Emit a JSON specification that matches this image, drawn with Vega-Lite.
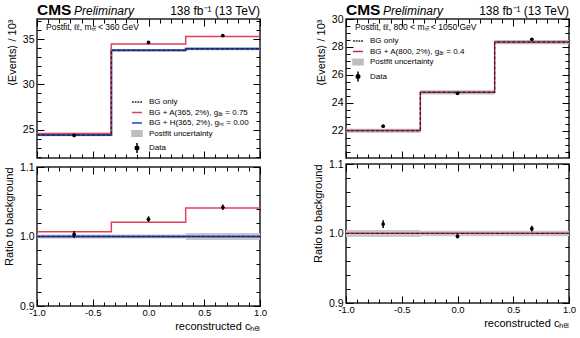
{
  "$schema": "https://vega.github.io/schema/vega-lite/v6.json",
  "padding": {"left": 2, "right": 2, "top": 2, "bottom": 2},
  "background": "white",
  "config": {
    "font": "Liberation Sans",
    "view": {"stroke": "#222", "strokeWidth": 1.5},
    "axis": {"domain": false, "grid": false, "labelFont": "Liberation Sans", "labelColor": "#000", "tickColor": "#000", "tickWidth": 1, "titleFont": "Liberation Sans", "titleFontWeight": "normal", "titleColor": "#000", "labelFlush": false, "labelOverlap": false}
  },
  "datasets": {
    "stepsL": [
      {"x": -1, "bg": 24.4, "a": 24.57},
      {"x": -0.3333, "bg": 33.78, "a": 34.48},
      {"x": 0.3333, "bg": 33.95, "a": 35.3},
      {"x": 1, "bg": 33.95, "a": 35.3}
    ],
    "bandL": [
      {"x0": -1, "x1": -0.3333, "lo": 24.25, "hi": 24.55},
      {"x0": -0.3333, "x1": 0.3333, "lo": 33.65, "hi": 33.91},
      {"x0": 0.3333, "x1": 1, "lo": 33.8, "hi": 34.1}
    ],
    "dataL": [
      {"x": -0.6667, "y": 24.35, "lo": 24.25, "hi": 24.45},
      {"x": 0, "y": 34.66, "lo": 34.56, "hi": 34.76},
      {"x": 0.6667, "y": 35.42, "lo": 35.32, "hi": 35.52}
    ],
    "rstepsL": [
      {"x": -1, "bg": 1, "a": 1.007},
      {"x": -0.3333, "bg": 1, "a": 1.0205},
      {"x": 0.3333, "bg": 1, "a": 1.041},
      {"x": 1, "bg": 1, "a": 1.041}
    ],
    "rbandL": [
      {"x0": -1, "x1": -0.3333, "lo": 0.997, "hi": 1.003},
      {"x0": -0.3333, "x1": 0.3333, "lo": 0.997, "hi": 1.003},
      {"x0": 0.3333, "x1": 1, "lo": 0.995, "hi": 1.005}
    ],
    "rdataL": [
      {"x": -0.6667, "y": 1.003, "lo": 0.998, "hi": 1.008},
      {"x": 0, "y": 1.025, "lo": 1.021, "hi": 1.029},
      {"x": 0.6667, "y": 1.042, "lo": 1.038, "hi": 1.046}
    ],
    "stepsR": [
      {"x": -1, "bg": 22.0, "a": 22.01},
      {"x": -0.3333, "bg": 24.75, "a": 24.76},
      {"x": 0.3333, "bg": 28.35, "a": 28.36},
      {"x": 1, "bg": 28.35, "a": 28.36}
    ],
    "bandR": [
      {"x0": -1, "x1": -0.3333, "lo": 21.85, "hi": 22.15},
      {"x0": -0.3333, "x1": 0.3333, "lo": 24.6, "hi": 24.9},
      {"x0": 0.3333, "x1": 1, "lo": 28.2, "hi": 28.5}
    ],
    "dataR": [
      {"x": -0.6667, "y": 22.33, "lo": 22.25, "hi": 22.41},
      {"x": 0, "y": 24.68, "lo": 24.6, "hi": 24.76},
      {"x": 0.6667, "y": 28.55, "lo": 28.47, "hi": 28.63}
    ],
    "rstepsR": [
      {"x": -1, "bg": 1, "a": 1.0005},
      {"x": -0.3333, "bg": 1, "a": 1.0005},
      {"x": 0.3333, "bg": 1, "a": 1.0005},
      {"x": 1, "bg": 1, "a": 1.0005}
    ],
    "rbandR": [
      {"x0": -1, "x1": -0.3333, "lo": 0.995, "hi": 1.005},
      {"x0": -0.3333, "x1": 0.3333, "lo": 0.996, "hi": 1.004},
      {"x0": 0.3333, "x1": 1, "lo": 0.996, "hi": 1.004}
    ],
    "rdataR": [
      {"x": -0.6667, "y": 1.0135, "lo": 1.008, "hi": 1.019},
      {"x": 0, "y": 0.996, "lo": 0.993, "hi": 0.999},
      {"x": 0.6667, "y": 1.007, "lo": 1.003, "hi": 1.011}
    ],
    "legL": [{"s": "BG only"}],
    "legR": [{"s": "BG only"}]
  },
  "resolve": {"scale": {"x": "independent", "y": "independent", "shape": "independent", "fill": "independent", "stroke": "independent"}},
  "spacing": 43,
  "hconcat": [
    {
      "spacing": -2,
      "resolve": {"scale": {"x": "independent", "y": "independent", "shape": "independent", "fill": "independent", "stroke": "independent"}},
      "vconcat": [
        {
          "width": 223, "height": 139,
          "resolve": {"axis": {"x": "independent", "y": "independent"}},
          "layer": [
            {
              "data": {"name": "bandL"},
              "mark": {"type": "rect", "color": "#bdbdbd"},
              "encoding": {
                "x": {"field": "x0", "type": "quantitative", "scale": {"domain": [-1, 1], "nice": false, "zero": false},
                  "axis": {"orient": "bottom", "values": [-1,-0.9,-0.8,-0.7,-0.6,-0.5,-0.4,-0.3,-0.2,-0.1,0,0.1,0.2,0.3,0.4,0.5,0.6,0.7,0.8,0.9,1], "labels": false, "title": null,
                    "tickSize": {"condition": {"test": "abs(datum.value*2-round(datum.value*2))<0.001", "value": -7}, "value": -4}}},
                "x2": {"field": "x1"},
                "y": {"field": "lo", "type": "quantitative", "scale": {"domain": [21.85, 37.25], "nice": false, "zero": false},
                  "axis": {"orient": "left", "values": [22,23,24,25,26,27,28,29,30,31,32,33,34,35,36,37], "labelExpr": "datum.value % 5 == 0 ? datum.label : ''", "labelFontSize": 10.5, "labelPadding": 10,
                    "tickSize": {"condition": {"test": "datum.value % 5 == 0", "value": -7}, "value": -4},
                    "title": "⟨Events⟩ / 10³", "titleFontSize": 11, "titleAnchor": "end", "titlePadding": 5}},
                "y2": {"field": "hi"}
              }
            },
            {
              "data": {"name": "stepsL"},
              "mark": {"type": "line", "interpolate": "step-after", "color": "#2343c2", "strokeWidth": 2},
              "encoding": {
                "x": {"field": "x", "type": "quantitative",
                  "axis": {"orient": "top", "values": [-1,-0.9,-0.8,-0.7,-0.6,-0.5,-0.4,-0.3,-0.2,-0.1,0,0.1,0.2,0.3,0.4,0.5,0.6,0.7,0.8,0.9,1], "labels": false, "title": null,
                    "tickSize": {"condition": {"test": "abs(datum.value*2-round(datum.value*2))<0.001", "value": -7}, "value": -4}}},
                "y": {"field": "bg", "type": "quantitative",
                  "axis": {"orient": "right", "values": [22,23,24,25,26,27,28,29,30,31,32,33,34,35,36,37], "labels": false, "title": null,
                    "tickSize": {"condition": {"test": "datum.value % 5 == 0", "value": -7}, "value": -4}}}
              }
            },
            {
              "data": {"name": "stepsL"},
              "mark": {"type": "line", "interpolate": "step-after", "color": "#e2405f", "strokeWidth": 1.5},
              "encoding": {"x": {"field": "x", "type": "quantitative", "axis": null}, "y": {"field": "a", "type": "quantitative", "axis": null}}
            },
            {
              "data": {"name": "stepsL"},
              "mark": {"type": "line", "interpolate": "step-after", "color": "#222", "strokeWidth": 1.2, "strokeDash": [3, 2]},
              "encoding": {"x": {"field": "x", "type": "quantitative", "axis": null}, "y": {"field": "bg", "type": "quantitative", "axis": null}}
            },
            {
              "data": {"name": "dataL"},
              "mark": {"type": "rule", "color": "#000", "strokeWidth": 1.5},
              "encoding": {"x": {"field": "x", "type": "quantitative", "axis": null}, "y": {"field": "lo", "type": "quantitative", "axis": null}, "y2": {"field": "hi"}}
            },
            {
              "data": {"name": "dataL"},
              "mark": {"type": "point", "filled": true, "color": "#000", "opacity": 1, "size": 14},
              "encoding": {"x": {"field": "x", "type": "quantitative", "axis": null}, "y": {"field": "y", "type": "quantitative", "axis": null}}
            },
            {
              "data": {"name": "legL"},
              "mark": {"type": "text", "text": "CMS", "fontWeight": "bold", "fontSize": 15.5, "align": "left", "baseline": "alphabetic", "dy": -4},
              "encoding": {"x": {"datum": -1, "type": "quantitative", "axis": null}, "y": {"datum": 37.25, "type": "quantitative", "axis": null}}
            },
            {
              "data": {"name": "legL"},
              "mark": {"type": "text", "text": "Preliminary", "fontStyle": "italic", "fontSize": 12, "align": "left", "baseline": "alphabetic", "dx": 37, "dy": -4},
              "encoding": {"x": {"datum": -1, "type": "quantitative", "axis": null}, "y": {"datum": 37.25, "type": "quantitative", "axis": null}}
            },
            {
              "data": {"name": "legL"},
              "mark": {"type": "text", "text": "138 fb⁻¹ (13 TeV)", "fontSize": 12, "align": "right", "baseline": "alphabetic", "dy": -4},
              "encoding": {"x": {"datum": 1, "type": "quantitative", "axis": null}, "y": {"datum": 37.25, "type": "quantitative", "axis": null}}
            },
            {
              "data": {"name": "legL"},
              "mark": {"type": "text", "text": "Postfit, ℓℓ, mₜₜ̄ < 360 GeV", "fontSize": 8.5, "align": "left", "baseline": "top", "dx": 9, "dy": 4},
              "encoding": {"x": {"datum": -1, "type": "quantitative", "axis": null}, "y": {"datum": 37.25, "type": "quantitative", "axis": null}}
            },
            {
              "data": {"name": "legL"},
              "transform": [{"filter": "false"}],
              "mark": {"type": "point", "filled": true, "opacity": 1, "strokeWidth": 1.5},
              "encoding": {
                "shape": {"field": "s", "type": "nominal",
                  "scale": {"domain": ["BG only", "BG + A(365, 2%), gₐₜ = 0.75", "BG + H(365, 2%), gₕₜ = 0.00", "Postfit uncertainty", "Data"],
                    "range": ["M-1,0H-0.65M-0.45,0H-0.1M0.1,0H0.45M0.65,0H1", "M-1,0H1", "M-1,0H1", "M-1,-0.55H1V0.55H-1Z", "M0,-1V1M-0.35,0A0.35,0.35 0 1,0 0.35,0A0.35,0.35 0 1,0 -0.35,0"]},
                  "legend": {"title": null, "orient": "none", "direction": "vertical", "legendX": 94, "legendY": 77, "labelFontSize": 8, "labelFont": "Liberation Sans", "symbolSize": 100, "symbolStrokeWidth": 1.5, "rowPadding": 0.5, "labelOffset": 6, "labelLimit": 300, "padding": 0}},
                "fill": {"field": "s", "type": "nominal",
                  "scale": {"domain": ["BG only", "BG + A(365, 2%), gₐₜ = 0.75", "BG + H(365, 2%), gₕₜ = 0.00", "Postfit uncertainty", "Data"],
                    "range": ["transparent", "transparent", "transparent", "#bdbdbd", "#000000"]},
                  "legend": {"title": null, "orient": "none", "direction": "vertical", "legendX": 94, "legendY": 77, "labelFontSize": 8, "labelFont": "Liberation Sans", "symbolSize": 100, "symbolStrokeWidth": 1.5, "rowPadding": 0.5, "labelOffset": 6, "labelLimit": 300, "padding": 0}},
                "stroke": {"field": "s", "type": "nominal",
                  "scale": {"domain": ["BG only", "BG + A(365, 2%), gₐₜ = 0.75", "BG + H(365, 2%), gₕₜ = 0.00", "Postfit uncertainty", "Data"],
                    "range": ["#222222", "#e2405f", "#2343c2", "#bdbdbd", "#000000"]},
                  "legend": {"title": null, "orient": "none", "direction": "vertical", "legendX": 94, "legendY": 77, "labelFontSize": 8, "labelFont": "Liberation Sans", "symbolSize": 100, "symbolStrokeWidth": 1.5, "rowPadding": 0.5, "labelOffset": 6, "labelLimit": 300, "padding": 0}}
              }
            }
          ]
        },
        {
          "width": 223, "height": 139,
          "resolve": {"axis": {"x": "independent", "y": "independent"}},
          "layer": [
            {
              "data": {"name": "rbandL"},
              "mark": {"type": "rect", "color": "#c8c8c8"},
              "encoding": {
                "x": {"field": "x0", "type": "quantitative", "scale": {"domain": [-1, 1], "nice": false, "zero": false},
                  "axis": {"orient": "bottom", "values": [-1,-0.9,-0.8,-0.7,-0.6,-0.5,-0.4,-0.3,-0.2,-0.1,0,0.1,0.2,0.3,0.4,0.5,0.6,0.7,0.8,0.9,1],
                    "labelExpr": "abs(datum.value*2-round(datum.value*2))<0.001 ? replace(format(datum.value, '.1f'), '−', '-') : ''", "labelFontSize": 9.5, "labelPadding": 8,
                    "tickSize": {"condition": {"test": "abs(datum.value*2-round(datum.value*2))<0.001", "value": -7}, "value": -4},
                    "title": "reconstructed cₕₑₗ", "titleFontSize": 11, "titleAnchor": "end", "titlePadding": 1}},
                "x2": {"field": "x1"},
                "y": {"field": "lo", "type": "quantitative", "scale": {"domain": [0.9, 1.1], "nice": false, "zero": false},
                  "axis": {"orient": "left", "values": [0.9,0.92,0.94,0.96,0.98,1,1.02,1.04,1.06,1.08,1.1], "labelExpr": "abs(datum.value*10-round(datum.value*10))<0.001 ? format(datum.value, '.1f') : ''", "labelFontSize": 10.5, "labelPadding": 10,
                    "tickSize": {"condition": {"test": "abs(datum.value*10-round(datum.value*10))<0.001", "value": -7}, "value": -4},
                    "title": "Ratio to background", "titleFontSize": 11, "titleAnchor": "end", "titlePadding": 5}},
                "y2": {"field": "hi"}
              }
            },
            {
              "data": {"name": "rstepsL"},
              "mark": {"type": "line", "interpolate": "step-after", "color": "#2343c2", "strokeWidth": 2},
              "encoding": {
                "x": {"field": "x", "type": "quantitative",
                  "axis": {"orient": "top", "values": [-1,-0.9,-0.8,-0.7,-0.6,-0.5,-0.4,-0.3,-0.2,-0.1,0,0.1,0.2,0.3,0.4,0.5,0.6,0.7,0.8,0.9,1], "labels": false, "title": null,
                    "tickSize": {"condition": {"test": "abs(datum.value*2-round(datum.value*2))<0.001", "value": -7}, "value": -4}}},
                "y": {"field": "bg", "type": "quantitative",
                  "axis": {"orient": "right", "values": [0.9,0.92,0.94,0.96,0.98,1,1.02,1.04,1.06,1.08,1.1], "labels": false, "title": null,
                    "tickSize": {"condition": {"test": "abs(datum.value*10-round(datum.value*10))<0.001", "value": -7}, "value": -4}}}
              }
            },
            {
              "data": {"name": "rstepsL"},
              "mark": {"type": "line", "interpolate": "step-after", "color": "#e2405f", "strokeWidth": 1.5},
              "encoding": {"x": {"field": "x", "type": "quantitative", "axis": null}, "y": {"field": "a", "type": "quantitative", "axis": null}}
            },
            {
              "data": {"name": "rstepsL"},
              "mark": {"type": "line", "interpolate": "step-after", "color": "#222", "strokeWidth": 1.2, "strokeDash": [3, 2]},
              "encoding": {"x": {"field": "x", "type": "quantitative", "axis": null}, "y": {"field": "bg", "type": "quantitative", "axis": null}}
            },
            {
              "data": {"name": "rdataL"},
              "mark": {"type": "rule", "color": "#000", "strokeWidth": 1.5},
              "encoding": {"x": {"field": "x", "type": "quantitative", "axis": null}, "y": {"field": "lo", "type": "quantitative", "axis": null}, "y2": {"field": "hi"}}
            },
            {
              "data": {"name": "rdataL"},
              "mark": {"type": "point", "filled": true, "color": "#000", "opacity": 1, "size": 14},
              "encoding": {"x": {"field": "x", "type": "quantitative", "axis": null}, "y": {"field": "y", "type": "quantitative", "axis": null}}
            }
          ]
        }
      ]
    },
    {
      "spacing": -2,
      "resolve": {"scale": {"x": "independent", "y": "independent", "shape": "independent", "fill": "independent", "stroke": "independent"}},
      "vconcat": [
        {
          "width": 223, "height": 139,
          "resolve": {"axis": {"x": "independent", "y": "independent"}},
          "layer": [
            {
              "data": {"name": "bandR"},
              "mark": {"type": "rect", "color": "#bdbdbd"},
              "encoding": {
                "x": {"field": "x0", "type": "quantitative", "scale": {"domain": [-1, 1], "nice": false, "zero": false},
                  "axis": {"orient": "bottom", "values": [-1,-0.9,-0.8,-0.7,-0.6,-0.5,-0.4,-0.3,-0.2,-0.1,0,0.1,0.2,0.3,0.4,0.5,0.6,0.7,0.8,0.9,1], "labels": false, "title": null,
                    "tickSize": {"condition": {"test": "abs(datum.value*2-round(datum.value*2))<0.001", "value": -7}, "value": -4}}},
                "x2": {"field": "x1"},
                "y": {"field": "lo", "type": "quantitative", "scale": {"domain": [20.05, 30], "nice": false, "zero": false},
                  "axis": {"orient": "left", "values": [20.5,21,21.5,22,22.5,23,23.5,24,24.5,25,25.5,26,26.5,27,27.5,28,28.5,29,29.5,30], "labelExpr": "datum.value % 2 == 0 ? format(datum.value, 'd') : ''", "labelFontSize": 10.5, "labelPadding": 10,
                    "tickSize": {"condition": {"test": "datum.value % 2 == 0", "value": -7}, "value": -4},
                    "title": "⟨Events⟩ / 10³", "titleFontSize": 11, "titleAnchor": "end", "titlePadding": 5}},
                "y2": {"field": "hi"}
              }
            },
            {
              "data": {"name": "stepsR"},
              "mark": {"type": "line", "interpolate": "step-after", "color": "#c02848", "strokeWidth": 1.5},
              "encoding": {
                "x": {"field": "x", "type": "quantitative",
                  "axis": {"orient": "top", "values": [-1,-0.9,-0.8,-0.7,-0.6,-0.5,-0.4,-0.3,-0.2,-0.1,0,0.1,0.2,0.3,0.4,0.5,0.6,0.7,0.8,0.9,1], "labels": false, "title": null,
                    "tickSize": {"condition": {"test": "abs(datum.value*2-round(datum.value*2))<0.001", "value": -7}, "value": -4}}},
                "y": {"field": "a", "type": "quantitative",
                  "axis": {"orient": "right", "values": [20.5,21,21.5,22,22.5,23,23.5,24,24.5,25,25.5,26,26.5,27,27.5,28,28.5,29,29.5,30], "labels": false, "title": null,
                    "tickSize": {"condition": {"test": "datum.value % 2 == 0", "value": -7}, "value": -4}}}
              }
            },
            {
              "data": {"name": "stepsR"},
              "mark": {"type": "line", "interpolate": "step-after", "color": "#222", "strokeWidth": 1.2, "strokeDash": [3, 2]},
              "encoding": {"x": {"field": "x", "type": "quantitative", "axis": null}, "y": {"field": "bg", "type": "quantitative", "axis": null}}
            },
            {
              "data": {"name": "dataR"},
              "mark": {"type": "rule", "color": "#000", "strokeWidth": 1.5},
              "encoding": {"x": {"field": "x", "type": "quantitative", "axis": null}, "y": {"field": "lo", "type": "quantitative", "axis": null}, "y2": {"field": "hi"}}
            },
            {
              "data": {"name": "dataR"},
              "mark": {"type": "point", "filled": true, "color": "#000", "opacity": 1, "size": 14},
              "encoding": {"x": {"field": "x", "type": "quantitative", "axis": null}, "y": {"field": "y", "type": "quantitative", "axis": null}}
            },
            {
              "data": {"name": "legR"},
              "mark": {"type": "text", "text": "CMS", "fontWeight": "bold", "fontSize": 15.5, "align": "left", "baseline": "alphabetic", "dy": -4},
              "encoding": {"x": {"datum": -1, "type": "quantitative", "axis": null}, "y": {"datum": 30, "type": "quantitative", "axis": null}}
            },
            {
              "data": {"name": "legR"},
              "mark": {"type": "text", "text": "Preliminary", "fontStyle": "italic", "fontSize": 12, "align": "left", "baseline": "alphabetic", "dx": 37, "dy": -4},
              "encoding": {"x": {"datum": -1, "type": "quantitative", "axis": null}, "y": {"datum": 30, "type": "quantitative", "axis": null}}
            },
            {
              "data": {"name": "legR"},
              "mark": {"type": "text", "text": "138 fb⁻¹ (13 TeV)", "fontSize": 12, "align": "right", "baseline": "alphabetic", "dy": -4},
              "encoding": {"x": {"datum": 1, "type": "quantitative", "axis": null}, "y": {"datum": 30, "type": "quantitative", "axis": null}}
            },
            {
              "data": {"name": "legR"},
              "mark": {"type": "text", "text": "Postfit, ℓℓ, 800 < mₜₜ̄ < 1050 GeV", "fontSize": 8.5, "align": "left", "baseline": "top", "dx": 9, "dy": 4},
              "encoding": {"x": {"datum": -1, "type": "quantitative", "axis": null}, "y": {"datum": 30, "type": "quantitative", "axis": null}}
            },
            {
              "data": {"name": "legR"},
              "transform": [{"filter": "false"}],
              "mark": {"type": "point", "filled": true, "opacity": 1, "strokeWidth": 1.5},
              "encoding": {
                "shape": {"field": "s", "type": "nominal",
                  "scale": {"domain": ["BG only", "BG + A(800, 2%), gₐₜ = 0.4", "Postfit uncertainty", "Data"],
                    "range": ["M-1,0H-0.65M-0.45,0H-0.1M0.1,0H0.45M0.65,0H1", "M-1,0H1", "M-1,-0.55H1V0.55H-1Z", "M0,-1V1M-0.35,0A0.35,0.35 0 1,0 0.35,0A0.35,0.35 0 1,0 -0.35,0"]},
                  "legend": {"title": null, "orient": "none", "direction": "vertical", "legendX": 6, "legendY": 16, "labelFontSize": 8, "labelFont": "Liberation Sans", "symbolSize": 100, "symbolStrokeWidth": 1.5, "rowPadding": 0.5, "labelOffset": 6, "labelLimit": 300, "padding": 0}},
                "fill": {"field": "s", "type": "nominal",
                  "scale": {"domain": ["BG only", "BG + A(800, 2%), gₐₜ = 0.4", "Postfit uncertainty", "Data"],
                    "range": ["transparent", "transparent", "#bdbdbd", "#000000"]},
                  "legend": {"title": null, "orient": "none", "direction": "vertical", "legendX": 6, "legendY": 16, "labelFontSize": 8, "labelFont": "Liberation Sans", "symbolSize": 100, "symbolStrokeWidth": 1.5, "rowPadding": 0.5, "labelOffset": 6, "labelLimit": 300, "padding": 0}},
                "stroke": {"field": "s", "type": "nominal",
                  "scale": {"domain": ["BG only", "BG + A(800, 2%), gₐₜ = 0.4", "Postfit uncertainty", "Data"],
                    "range": ["#222222", "#c02848", "#bdbdbd", "#000000"]},
                  "legend": {"title": null, "orient": "none", "direction": "vertical", "legendX": 6, "legendY": 16, "labelFontSize": 8, "labelFont": "Liberation Sans", "symbolSize": 100, "symbolStrokeWidth": 1.5, "rowPadding": 0.5, "labelOffset": 6, "labelLimit": 300, "padding": 0}}
              }
            }
          ]
        },
        {
          "width": 223, "height": 139,
          "resolve": {"axis": {"x": "independent", "y": "independent"}},
          "layer": [
            {
              "data": {"name": "rbandR"},
              "mark": {"type": "rect", "color": "#c8c8c8"},
              "encoding": {
                "x": {"field": "x0", "type": "quantitative", "scale": {"domain": [-1, 1], "nice": false, "zero": false},
                  "axis": {"orient": "bottom", "values": [-1,-0.9,-0.8,-0.7,-0.6,-0.5,-0.4,-0.3,-0.2,-0.1,0,0.1,0.2,0.3,0.4,0.5,0.6,0.7,0.8,0.9,1],
                    "labelExpr": "abs(datum.value*2-round(datum.value*2))<0.001 ? replace(format(datum.value, '.1f'), '−', '-') : ''", "labelFontSize": 9.5, "labelPadding": 8,
                    "tickSize": {"condition": {"test": "abs(datum.value*2-round(datum.value*2))<0.001", "value": -7}, "value": -4},
                    "title": "reconstructed cₕₑₗ", "titleFontSize": 11, "titleAnchor": "end", "titlePadding": 1}},
                "x2": {"field": "x1"},
                "y": {"field": "lo", "type": "quantitative", "scale": {"domain": [0.9, 1.1], "nice": false, "zero": false},
                  "axis": {"orient": "left", "values": [0.9,0.92,0.94,0.96,0.98,1,1.02,1.04,1.06,1.08,1.1], "labelExpr": "abs(datum.value*10-round(datum.value*10))<0.001 ? format(datum.value, '.1f') : ''", "labelFontSize": 10.5, "labelPadding": 10,
                    "tickSize": {"condition": {"test": "abs(datum.value*10-round(datum.value*10))<0.001", "value": -7}, "value": -4},
                    "title": "Ratio to background", "titleFontSize": 11, "titleAnchor": "end", "titlePadding": 5}},
                "y2": {"field": "hi"}
              }
            },
            {
              "data": {"name": "rstepsR"},
              "mark": {"type": "line", "interpolate": "step-after", "color": "#c02848", "strokeWidth": 1.5},
              "encoding": {
                "x": {"field": "x", "type": "quantitative",
                  "axis": {"orient": "top", "values": [-1,-0.9,-0.8,-0.7,-0.6,-0.5,-0.4,-0.3,-0.2,-0.1,0,0.1,0.2,0.3,0.4,0.5,0.6,0.7,0.8,0.9,1], "labels": false, "title": null,
                    "tickSize": {"condition": {"test": "abs(datum.value*2-round(datum.value*2))<0.001", "value": -7}, "value": -4}}},
                "y": {"field": "a", "type": "quantitative",
                  "axis": {"orient": "right", "values": [0.9,0.92,0.94,0.96,0.98,1,1.02,1.04,1.06,1.08,1.1], "labels": false, "title": null,
                    "tickSize": {"condition": {"test": "abs(datum.value*10-round(datum.value*10))<0.001", "value": -7}, "value": -4}}}
              }
            },
            {
              "data": {"name": "rstepsR"},
              "mark": {"type": "line", "interpolate": "step-after", "color": "#222", "strokeWidth": 1.2, "strokeDash": [3, 2]},
              "encoding": {"x": {"field": "x", "type": "quantitative", "axis": null}, "y": {"field": "bg", "type": "quantitative", "axis": null}}
            },
            {
              "data": {"name": "rdataR"},
              "mark": {"type": "rule", "color": "#000", "strokeWidth": 1.5},
              "encoding": {"x": {"field": "x", "type": "quantitative", "axis": null}, "y": {"field": "lo", "type": "quantitative", "axis": null}, "y2": {"field": "hi"}}
            },
            {
              "data": {"name": "rdataR"},
              "mark": {"type": "point", "filled": true, "color": "#000", "opacity": 1, "size": 14},
              "encoding": {"x": {"field": "x", "type": "quantitative", "axis": null}, "y": {"field": "y", "type": "quantitative", "axis": null}}
            }
          ]
        }
      ]
    }
  ]
}
